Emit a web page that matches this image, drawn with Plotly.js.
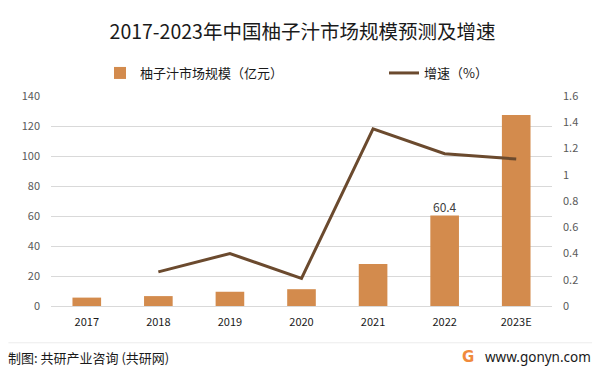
<!DOCTYPE html>
<html><head><meta charset="utf-8">
<script src="https://cdn.plot.ly/plotly-3.0.1.min.js"></script>
<style>html,body{margin:0;padding:0;background:#fff}#c{width:599px;height:374px}</style>
</head><body><div id="c"></div>
<script>
const years = ['2017','2018','2019','2020','2021','2022','2023E'];
const marketSize = [5.6, 6.6, 9.5, 11.2, 28.0, 60.4, 127.4];
const growthYears = ['2018','2019','2020','2021','2022','2023E'];
const growthRate = [0.26, 0.40, 0.21, 1.35, 1.16, 1.12];
const labelYears = ['2022'];
const labelValues = [60.4];

const font = 'Noto Sans CJK SC, Noto Sans, sans-serif';
const traces = [
  {type:'bar', x:years, y:marketSize, name:'柚子汁市场规模（亿元）',
   marker:{color:'#D38B4D'}, yaxis:'y', hoverinfo:'skip', legend:'legend'},
  {type:'scatter', mode:'lines', x:growthYears, y:growthRate, name:'增速（%）',
   line:{color:'#6B4A2E', width:3}, yaxis:'y2', hoverinfo:'skip', legend:'legend2'},
  {type:'scatter', mode:'text', x:labelYears, y:labelValues, text:labelValues.map(v=>v.toFixed(1)),
   textposition:'top center', textfont:{size:12, color:'#404040', family:font},
   showlegend:false, yaxis:'y', cliponaxis:false, hoverinfo:'skip'}
];
const legFont = {size:13, color:'#1a1a1a', family:font};
const layout = {
  width:599, height:374,
  margin:{l:51, r:47, t:96, b:68},
  paper_bgcolor:'#fff', plot_bgcolor:'#fff',
  font:{family:font, color:'#595959', size:11},
  title:{text:'2017-2023年中国柚子汁市场规模预测及增速', x:0.505, xanchor:'center', y:0.915, yanchor:'middle',
         font:{size:19.5, color:'#1a1a1a', family:font}},
  bargap:0.6,
  showlegend:true,
  legend:{orientation:'h', xref:'container', x:100/599, xanchor:'left', yref:'container', y:1-73/374, yanchor:'middle',
          font:legFont, itemwidth:30, bgcolor:'rgba(0,0,0,0)'},
  legend2:{orientation:'h', xref:'container', x:384/599, xanchor:'left', yref:'container', y:1-73/374, yanchor:'middle',
          font:legFont, itemwidth:30, bgcolor:'rgba(0,0,0,0)'},
  xaxis:{type:'category', showgrid:false, zeroline:false, showline:false, ticks:'',
         tickfont:{size:11, color:'#1a1a1a'}, ticklabelstandoff:8},
  yaxis:{range:[0,140], dtick:20, showgrid:true, gridcolor:'#d9d9d9', gridwidth:1, zeroline:true,
         zerolinecolor:'#d9d9d9', ticks:'', showline:false, tickfont:{size:11, color:'#595959'}, ticklabelstandoff:10},
  yaxis2:{range:[0,1.6], overlaying:'y', side:'right', showgrid:false, zeroline:false,
          ticks:'', showline:false, tickfont:{size:11, color:'#595959'}, ticklabelstandoff:10,
          tickvals:[0,0.2,0.4,0.6,0.8,1,1.2,1.4,1.6], ticktext:['0','0.2','0.4','0.6','0.8','1','1.2','1.4','1.6']},
  shapes:[{type:'line', xref:'paper', yref:'paper', x0:-0.085, x1:1.08, y0:-0.175, y1:-0.175,
           line:{color:'#ececec', width:1}}],
  annotations:[
    {text:'制图: 共研产业咨询 (共研网)', xref:'paper', yref:'paper', x:-0.09, xanchor:'left', y:-0.245, yanchor:'middle',
     showarrow:false, font:{size:13, color:'#1a1a1a', family:font}},
    {text:'<b>G</b>', xref:'paper', yref:'paper', x:(460-51)/501, xanchor:'left', y:-0.245, yanchor:'middle',
     showarrow:false, font:{size:15, color:'#F08A3C', family:'DejaVu Sans'}},
    {text:'www.gonyn.com', xref:'paper', yref:'paper', x:(593-51)/501, xanchor:'right', y:-0.245, yanchor:'middle',
     showarrow:false, font:{size:13.5, color:'#1a1a1a', family:'Noto Sans, sans-serif'}}
  ]
};
Plotly.newPlot('c', traces, layout, {staticPlot:true, displayModeBar:false});
</script></body></html>
